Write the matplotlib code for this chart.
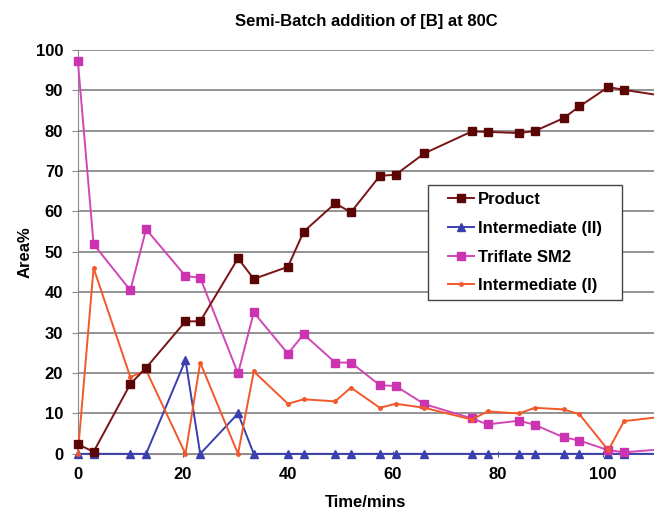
import matplotlib.pyplot as plt
from matplotlib.patches import Rectangle

plt.rcParams['font.family'] = ['Liberation Sans', 'DejaVu Sans']
plt.rcParams['font.weight'] = 'bold'

# sample times (mins); last point lies past the right edge of the plot
time_mins = [0, 3, 10, 13, 20.5, 23.3, 30.5, 33.5, 40, 43, 49, 52, 57.5, 60.5,
             66, 75, 78, 84, 87, 92.5, 95.5, 101, 104, 116]

product = [2.4, 0.5, 17.3, 21.3, 32.8, 32.8, 48.4, 43.3, 46.3, 55.0, 62.0, 59.8,
           68.8, 69.1, 74.4, 79.8, 79.7, 79.4, 79.9, 83.1, 86.0, 90.8, 90.1, 87.7]
intermediate_2 = [0, 0, 0, 0, 23.2, 0, 10.0, 0, 0, 0, 0, 0,
                  0, 0, 0, 0, 0, 0, 0, 0, 0, 0, 0, 0]
triflate_sm2 = [97.3, 51.9, 40.5, 55.6, 44.0, 43.6, 19.9, 35.0, 24.8, 29.6, 22.6, 22.6,
                17.0, 16.8, 12.3, 8.8, 7.3, 8.2, 7.2, 4.1, 3.3, 0.9, 0.4, 1.6]
intermediate_1 = [0, 46.0, 19.0, 20.7, 0, 22.6, 0, 20.4, 12.4, 13.5, 13.0, 16.4,
                  11.4, 12.4, 11.4, 8.5, 10.5, 10.0, 11.4, 11.0, 9.8, 0.9, 8.1, 9.9]

fs = 12

fig = plt.figure(figsize=(6.54, 5.14), dpi=100)
ax = fig.add_axes([0.119, 0.117, 0.881, 0.786])

ax.plot(time_mins, product, color='#7a1414', marker='s', markersize=5.5,
        markerfacecolor='#5c0505', markeredgecolor='#5c0505', linewidth=1.4,
        label='Product', zorder=4, clip_on=False)
ax.plot(time_mins, intermediate_2, color='#3a3fae', marker='^', markersize=5.5,
        linewidth=1.4, label='Intermediate (II)', zorder=3, clip_on=False)
ax.plot(time_mins, triflate_sm2, color='#d048b4', marker='s', markersize=5.5,
        markerfacecolor='#cc33b0', markeredgecolor='#cc33b0', linewidth=1.4,
        label='Triflate SM2', zorder=3, clip_on=False)
ax.plot(time_mins, intermediate_1, color='#f2582a', marker='o', markersize=2.5,
        linewidth=1.4, label='Intermediate (I)', zorder=3, clip_on=False)

ax.set_xlim(0, 109.7)
ax.set_ylim(0, 100)
ax.set_yticks(range(0, 101, 10))
ax.set_xticks(range(0, 101, 20))

ax.grid(True, axis='y', color='#8a8a8a', linewidth=1.3)
ax.set_axisbelow(True)
for side in ('top', 'right'):
    ax.spines[side].set_visible(False)
ax.spines['left'].set_color('#8a8a8a')
ax.spines['bottom'].set_color('#8a8a8a')
ax.tick_params(axis='y', direction='out', length=4.5, color='#8a8a8a', labelsize=fs, pad=6)
ax.tick_params(axis='x', direction='inout', length=5, color='#555555', labelsize=fs, pad=7)
for lbl in ax.get_xticklabels() + ax.get_yticklabels():
    lbl.set_fontweight('bold')

ax.set_title('Semi-Batch addition of [B] at 80C', fontsize=fs, fontweight='bold', pad=17)
ax.set_xlabel('Time/mins', fontsize=fs, fontweight='bold', labelpad=9)
ax.set_ylabel('Area%', fontsize=fs, fontweight='bold', labelpad=2)

leg = ax.legend(loc='upper left', bbox_to_anchor=(0.630, 0.665), fancybox=False,
                frameon=False, prop={'weight': 'bold', 'size': fs},
                handlelength=1.6, handletextpad=0.2, borderpad=0.42,
                labelspacing=0.82, borderaxespad=0)
leg.set_zorder(6)

# legend box is wider than the legend's own padding allows, so draw it separately
fig.canvas.draw()
bb = leg.get_window_extent()
extra = 13
box = Rectangle((bb.x0 - extra, bb.y0), bb.width + 2 * extra, bb.height,
                transform=None, facecolor='white', edgecolor='#444444',
                linewidth=1.0, zorder=5)
ax.add_artist(box)

fig.savefig('out.png', dpi=100)
